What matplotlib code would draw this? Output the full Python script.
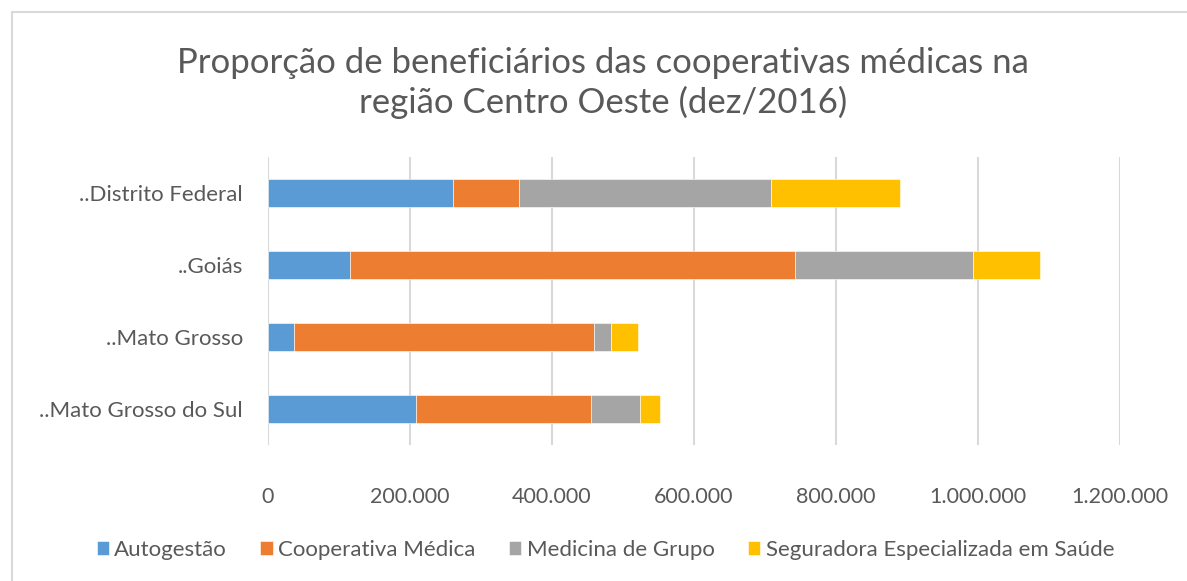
import matplotlib.pyplot as plt
from matplotlib.patches import Rectangle
from matplotlib.ticker import FuncFormatter
import numpy as np

plt.rcParams['font.family'] = ['Lato', 'DejaVu Sans']

# data
estados = ['..Distrito Federal', '..Goiás', '..Mato Grosso', '..Mato Grosso do Sul']
series = ['Autogestão', 'Cooperativa Médica', 'Medicina de Grupo',
          'Seguradora Especializada em Saúde']
autogestao = [260500, 115700, 37000, 207800]
cooperativa = [93500, 627000, 422000, 247000]
medicina = [354000, 250000, 24000, 68500]
seguradora = [182000, 94500, 38500, 29500]
cores = ['#5B9BD5', '#ED7D31', '#A5A5A5', '#FFC000']

fig = plt.figure(figsize=(11.87, 5.81), dpi=100)
ax = fig.add_axes([268/1187, 1-445/581, (1120-268)/1187, (445-157)/581])

y = np.arange(len(estados))
left = np.zeros(len(estados))
for nome, vals, c in zip(series, [autogestao, cooperativa, medicina, seguradora], cores):
    ax.barh(y, vals, left=left, height=0.4, color=c, label=nome,
            edgecolor='white', linewidth=0.4, zorder=3)
    left += np.array(vals)

ax.set_ylim(3.5, -0.5)
ax.set_xlim(0, 1200000)
ax.set_xticks(np.arange(0, 1200001, 200000))
ax.xaxis.set_major_formatter(FuncFormatter(lambda v, p: f'{int(v):,}'.replace(',', '.')))
ax.set_yticks(y)
ax.set_yticklabels(estados)
ax.grid(axis='x', color='#D9D9D9', linewidth=1.5, zorder=0)
for s in ax.spines.values():
    s.set_visible(False)
ax.tick_params(axis='both', length=0, colors='#595959')
ax.tick_params(axis='x', pad=30, labelsize=15.5)
ax.tick_params(axis='y', pad=18, labelsize=16)

fig.text(0.508, 1-83/581, 'Proporção de beneficiários das cooperativas médicas na\nregião Centro Oeste (dez/2016)',
         ha='center', va='center', fontsize=25, color='#595959', linespacing=1.25)

fig.legend(loc='center', bbox_to_anchor=(0.51, 1-550/581), ncol=4, frameon=False,
           fontsize=16, labelcolor='#595959', handlelength=0.55, handleheight=0.55,
           handletextpad=0.25, columnspacing=1.5)

# chart border (only top/left visible in the crop)
fig.add_artist(Rectangle((12/1187, -0.1), 1.2, 1.1-12/581, transform=fig.transFigure,
                         fill=False, edgecolor='#D9D9D9', linewidth=1.5))

fig.savefig('out.png', dpi=100, facecolor='white')
